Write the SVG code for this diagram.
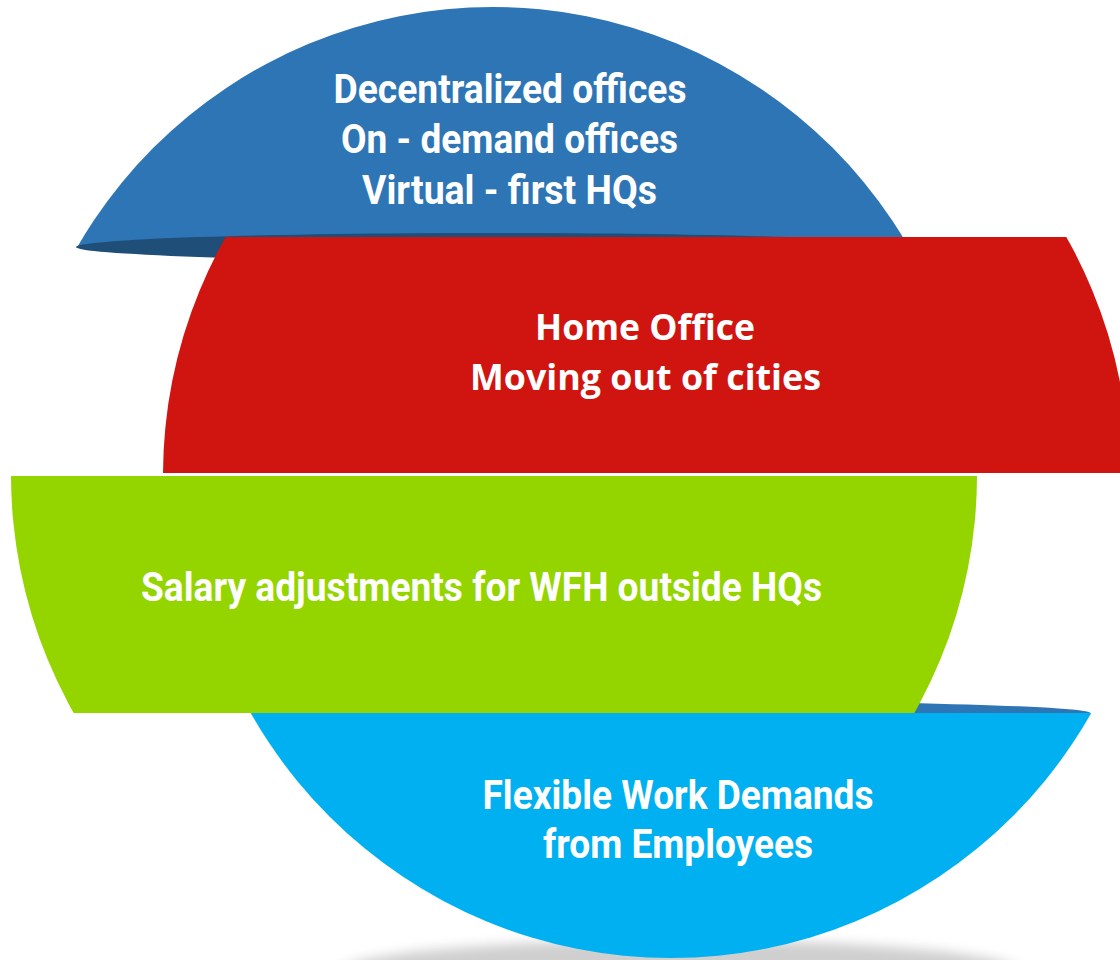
<svg xmlns="http://www.w3.org/2000/svg" width="1120" height="960" viewBox="0 0 1120 960">
<defs>
<style>
.t1{font-family:Roboto,"Liberation Sans",sans-serif;font-weight:700;font-size:40px;fill:#ffffff;text-anchor:middle}
.t2{font-family:"Open Sans","Liberation Sans",sans-serif;font-weight:700;font-size:36px;fill:#ffffff;text-anchor:middle}
</style>
<clipPath id="cBlue"><rect x="0" y="0" width="1120" height="248"/></clipPath>
<clipPath id="cRed"><rect x="0" y="237" width="1120" height="236"/></clipPath>
<clipPath id="cGreen"><rect x="0" y="476" width="1120" height="237"/></clipPath>
<clipPath id="cCyan"><rect x="0" y="713" width="1120" height="247"/></clipPath>
<filter id="blur" x="-20%" y="-100%" width="140%" height="300%"><feGaussianBlur stdDeviation="6"/></filter>
</defs>
<rect width="1120" height="960" fill="#ffffff"/>
<ellipse cx="680" cy="972" rx="340" ry="32" fill="#cfcfcf" filter="url(#blur)"/>

<g id="slice-cyan">
<ellipse cx="671" cy="713" rx="419" ry="12" fill="#2e75b6"/>
<circle cx="671" cy="475" r="483" fill="#00b0f0" clip-path="url(#cCyan)"/>
<text class="t1" x="678" y="809" textLength="391" lengthAdjust="spacingAndGlyphs">Flexible Work Demands</text>
<text class="t1" x="678" y="858" textLength="270" lengthAdjust="spacingAndGlyphs">from Employees</text>
</g>

<g id="slice-green">
<circle cx="494" cy="475" r="483" fill="#94d500" clip-path="url(#cGreen)"/>
<text class="t1" x="481.5" y="601" textLength="681" lengthAdjust="spacingAndGlyphs">Salary adjustments for WFH outside HQs</text>
</g>

<g id="slice-blue">
<circle cx="493" cy="487" r="480" fill="#2e75b6" clip-path="url(#cBlue)"/>
<ellipse cx="493" cy="247" rx="417" ry="14" fill="#1f4e79"/>
<text class="t1" x="510" y="103" textLength="353" lengthAdjust="spacingAndGlyphs">Decentralized offices</text>
<text class="t1" x="509.5" y="153" textLength="337" lengthAdjust="spacingAndGlyphs">On - demand offices</text>
<text class="t1" x="509.5" y="204" textLength="295" lengthAdjust="spacingAndGlyphs">Virtual - first HQs</text>
</g>

<g id="slice-red">
<circle cx="646" cy="475" r="483" fill="#d0140f" clip-path="url(#cRed)"/>
<text class="t2" x="645" y="340" textLength="220" lengthAdjust="spacingAndGlyphs">Home Office</text>
<text class="t2" x="645.5" y="390" textLength="351" lengthAdjust="spacingAndGlyphs">Moving out of cities</text>
</g>
<g id="connectors"/>
</svg>
